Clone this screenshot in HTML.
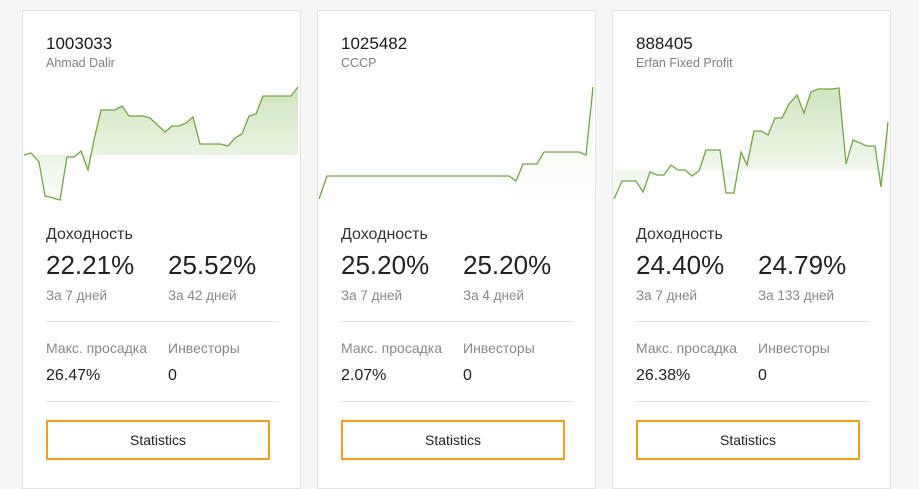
<!DOCTYPE html>
<html><head><meta charset="utf-8"><style>
*{margin:0;padding:0;box-sizing:border-box}
body{width:919px;height:489px;background:#f7f7f7;position:relative;overflow:hidden;font-family:"Liberation Sans",sans-serif;color:#222}
.card{position:absolute;top:10px;width:279px;height:479px;background:#fff;border:1px solid #e3e3e3}
.a{position:absolute;white-space:nowrap}
.id{left:23px;top:23px;font-size:17px;color:#1a1a1a}
.nm{left:23px;top:45px;font-size:12.5px;color:#808080}
.dh{left:23px;top:215px;font-size:16px;color:#333}
.big{top:239px;font-size:26px;color:#222;font-weight:300}
.sm{top:277px;font-size:13.5px;color:#888}
.hr{position:absolute;left:23px;width:233px;height:1px;background:#e2e2e2}
.lb{top:329px;font-size:14px;color:#888}
.v{top:356px;font-size:16px;color:#222}
.btn{position:absolute;left:23px;top:409px;width:224px;height:40px;border:2px solid #f39c1e;text-align:center;line-height:36px;font-size:14px;color:#222}
svg{position:absolute;left:0;top:0}
</style></head><body>
<svg width="919" height="489" style="z-index:2">
<defs>
<linearGradient id="g" x1="0" y1="0" x2="0" y2="1"><stop offset="0" stop-color="#a9cf8a" stop-opacity="0.55"/><stop offset="1" stop-color="#a9cf8a" stop-opacity="0.03"/></linearGradient>
</defs>
<polygon fill="url(#g)" points="24,155 31,153 39,162 45,196 53,198 60,200 67,157 74,157 81,151 88,170 94,140 101,110 115,110 122,106 129,116 143,116 150,118 165,132 172,126 179,126 186,123 193,117 200,144 220,144 228,146 235,138 242,134 249,116 256,114 263,96 291,96 298,87 298,155"/>
<polyline fill="none" stroke="#74a548" stroke-width="1.3" points="24,155 31,153 39,162 45,196 53,198 60,200 67,157 74,157 81,151 88,170 94,140 101,110 115,110 122,106 129,116 143,116 150,118 165,132 172,126 179,126 186,123 193,117 200,144 220,144 228,146 235,138 242,134 249,116 256,114 263,96 291,96 298,87"/>
<polygon fill="url(#g)" opacity="0.3" points="509,176 516,181 523,164 537,164 544,152 579,152 586,155 593,87 593,200 509,200"/>
<polyline fill="none" stroke="#74a548" stroke-width="1.3" points="319,199 327,176 509,176 516,181 523,164 537,164 544,152 579,152 586,155 593,87"/>
<polygon fill="url(#g)" points="614,199 622,181 636,181 643,192 650,172 657,175 664,175 671,165 678,170 685,170 692,176 699,171 706,150 720,150 726,193 734,193 741,152 747,165 754,131 761,131 768,135 775,118 782,118 789,104 797,95 804,113 811,92 818,89 832,89 839,88 846,164 853,140 867,146 875,146 881,187 888,122 888,170 614,170"/>
<polyline fill="none" stroke="#74a548" stroke-width="1.3" points="614,199 622,181 636,181 643,192 650,172 657,175 664,175 671,165 678,170 685,170 692,176 699,171 706,150 720,150 726,193 734,193 741,152 747,165 754,131 761,131 768,135 775,118 782,118 789,104 797,95 804,113 811,92 818,89 832,89 839,88 846,164 853,140 867,146 875,146 881,187 888,122"/>
</svg>

<div class="card" style="left:22px">
<div class="a id">1003033</div><div class="a nm">Ahmad Dalir</div>
<div class="a dh">Доходность</div>
<div class="a big" style="left:23px">22.21%</div><div class="a big" style="left:145px">25.52%</div>
<div class="a sm" style="left:23px">За 7 дней</div><div class="a sm" style="left:145px">За 42 дней</div>
<div class="hr" style="top:310px"></div>
<div class="a lb" style="left:23px">Макс. просадка</div><div class="a lb" style="left:145px">Инвесторы</div>
<div class="a v" style="left:23px">26.47%</div><div class="a v" style="left:145px">0</div>
<div class="hr" style="top:390px"></div>
<div class="btn">Statistics</div>
</div>

<div class="card" style="left:317px">
<div class="a id">1025482</div><div class="a nm">CCCP</div>
<div class="a dh">Доходность</div>
<div class="a big" style="left:23px">25.20%</div><div class="a big" style="left:145px">25.20%</div>
<div class="a sm" style="left:23px">За 7 дней</div><div class="a sm" style="left:145px">За 4 дней</div>
<div class="hr" style="top:310px"></div>
<div class="a lb" style="left:23px">Макс. просадка</div><div class="a lb" style="left:145px">Инвесторы</div>
<div class="a v" style="left:23px">2.07%</div><div class="a v" style="left:145px">0</div>
<div class="hr" style="top:390px"></div>
<div class="btn">Statistics</div>
</div>

<div class="card" style="left:612px">
<div class="a id">888405</div><div class="a nm">Erfan Fixed Profit</div>
<div class="a dh">Доходность</div>
<div class="a big" style="left:23px">24.40%</div><div class="a big" style="left:145px">24.79%</div>
<div class="a sm" style="left:23px">За 7 дней</div><div class="a sm" style="left:145px">За 133 дней</div>
<div class="hr" style="top:310px"></div>
<div class="a lb" style="left:23px">Макс. просадка</div><div class="a lb" style="left:145px">Инвесторы</div>
<div class="a v" style="left:23px">26.38%</div><div class="a v" style="left:145px">0</div>
<div class="hr" style="top:390px"></div>
<div class="btn">Statistics</div>
</div>
</body></html>
